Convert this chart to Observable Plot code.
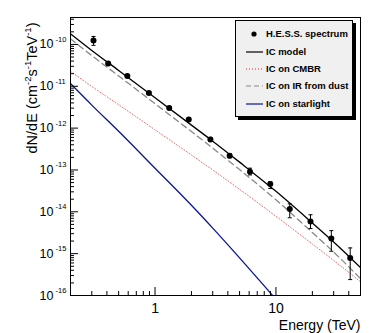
<!DOCTYPE html>
<html><head><meta charset="utf-8">
<script src="https://cdn.jsdelivr.net/npm/d3@7"></script>
<script src="https://cdn.jsdelivr.net/npm/@observablehq/plot@0.6"></script>
<style>
body{margin:0;background:#fff;}
#wrap{position:relative;width:374px;height:333px;font-family:"Liberation Sans",Arial,sans-serif;}
#legend{position:absolute;left:235px;top:20px;width:116px;height:95px;background:#f0f0f0;border:1px solid #000;box-shadow:3px 3px 0 #000;}
#legend svg{display:block;}
</style></head><body><div id="wrap"></div>
<script>
// H.E.S.S. spectrum
const energies = [0.31, 0.41, 0.59, 0.89, 1.31, 1.90, 2.87, 4.14, 6.1, 8.97, 13.0, 19.3, 28.7, 41.1];
const flux     = [1.24e-10, 3.5e-11, 1.76e-11, 6.9e-12, 3.04e-12, 1.61e-12, 5.37e-13, 2.19e-13, 9.1e-14, 4.6e-14, 1.17e-14, 5.9e-15, 2.31e-15, 7.9e-16];
const fluxLo   = [9.5e-11, 3.2e-11, 1.63e-11, 6.4e-12, 2.8e-12, 1.48e-12, 4.8e-13, 1.95e-13, 7.6e-14, 3.6e-14, 7.2e-15, 4.0e-15, 1.14e-15, 2.4e-16];
const fluxHi   = [1.55e-10, 3.8e-11, 1.9e-11, 7.4e-12, 3.3e-12, 1.75e-12, 6.0e-13, 2.45e-13, 1.1e-13, 5.2e-14, 1.55e-14, 8.5e-15, 3.55e-15, 1.37e-15];

// Model curves
const modelEnergies = [0.2, 0.3, 0.5, 1, 2, 3, 5, 10, 20, 30, 50];
const icModel = [1.80e-10, 7.2e-11, 2.39e-11, 5.32e-12, 1.18e-12, 4.88e-13, 1.54e-13, 3.08e-14, 5.38e-15, 1.89e-15, 4.64e-16];
const icDust  = [1.37e-10, 5.41e-11, 1.77e-11, 3.83e-12, 8.26e-13, 3.32e-13, 1.02e-13, 1.93e-14, 3.2e-15, 1.09e-15, 2.54e-16];
const icCMBR  = [2.28e-11, 9.88e-12, 3.63e-12, 9.12e-13, 2.28e-13, 1.0e-13, 3.45e-14, 7.82e-15, 1.70e-15, 6.89e-16, 2.14e-16];
const starEnergies = [0.2, 0.3, 0.5, 1, 2, 3, 5, 8, 10];
const icStarlight  = [1.16e-11, 3.55e-12, 8.4e-13, 1.10e-13, 1.43e-14, 4.07e-15, 7.94e-16, 1.70e-16, 8.07e-17];

// Axes
const xTickValues = [1, 10];
const xTickLabels = ["1", "10"];
const xMinorTicks = [0.3,0.4,0.5,0.6,0.7,0.8,0.9,2,3,4,5,6,7,8,9,20,30,40];
const yTickValues = [1e-10, 1e-11, 1e-12, 1e-13, 1e-14, 1e-15, 1e-16];
const yTickExponents = ["-10", "-11", "-12", "-13", "-14", "-15", "-16"];
const yTitleParts = [["dN/dE (cm", false], ["-2", true], ["s", false], ["-1", true], ["TeV", false], ["-1", true], [")", false]];
const xTitle = "Energy (TeV)";
const legendLabels = ["H.E.S.S. spectrum", "IC model", "IC on CMBR", "IC on IR from dust", "IC on starlight"];

const yMinorTicks = [];
for (const p of [-16,-15,-14,-13,-12,-11,-10]) for (let k = 2; k <= 9; k++) { const v = k * Math.pow(10, p); if (v < 4.4e-10) yMinorTicks.push(v); }

const points = energies.map((e, i) => ({e, f: flux[i], lo: fluxLo[i], hi: fluxHi[i]}));
const mk = (xs, ys) => xs.map((e, i) => ({e, f: ys[i]}));
const capSymbol = {draw(ctx) { ctx.moveTo(-2, 0); ctx.lineTo(2, 0); }};
const yTitleText = yTitleParts.map(p => p[0]).join("");

const font = `"Liberation Sans", Arial, sans-serif`;
const chart = Plot.plot({
  width: 374, height: 333,
  marginLeft: 70, marginRight: 14, marginTop: 17, marginBottom: 38,
  style: {fontFamily: font, background: "white", color: "black"},
  x: {type: "log", domain: [0.2, 50]},
  y: {type: "log", domain: [1e-16, 4.4e-10]},
  marks: [
    Plot.line(mk(starEnergies, icStarlight), {x: "e", y: "f", stroke: "#0a1496", strokeWidth: 1.3, clip: true, curve: "monotone-x"}),
    Plot.line(mk(modelEnergies, icCMBR), {x: "e", y: "f", stroke: "#e87070", strokeWidth: 1, strokeDasharray: "1,2", clip: true, curve: "monotone-x"}),
    Plot.line(mk(modelEnergies, icDust), {x: "e", y: "f", stroke: "#888", strokeWidth: 1.3, strokeDasharray: "6,4", clip: true, curve: "monotone-x"}),
    Plot.line(mk(modelEnergies, icModel), {x: "e", y: "f", stroke: "black", strokeWidth: 1.3, clip: true, curve: "monotone-x"}),
    Plot.ruleX(points, {x: "e", y1: "lo", y2: "hi", stroke: "black", strokeWidth: 1}),
    Plot.dot(points, {x: "e", y: "lo", symbol: capSymbol, stroke: "black", fill: "none", strokeWidth: 1}),
    Plot.dot(points, {x: "e", y: "hi", symbol: capSymbol, stroke: "black", fill: "none", strokeWidth: 1}),
    Plot.dot(points, {x: "e", y: "f", r: 3, fill: "black", stroke: "none"}),
    Plot.frame({stroke: "black", strokeWidth: 1}),
    Plot.axisX(xMinorTicks, {tickSize: -4, tickFormat: () => "", label: null, stroke: "black"}),
    Plot.axisX(xTickValues, {tickSize: -8, tickFormat: () => "", label: null, stroke: "black"}),
    Plot.axisY(yMinorTicks, {tickSize: -4, tickFormat: () => "", label: null, stroke: "black"}),
    Plot.axisY(yTickValues, {tickSize: -8, tickFormat: () => "", label: null, stroke: "black"}),
    Plot.text(xTickValues, {x: d => d, frameAnchor: "bottom", dy: 13, lineAnchor: "middle", text: (d, i) => xTickLabels[i], fontSize: 14, fill: "black"}),
    Plot.text(yTickValues, {y: d => d, frameAnchor: "left", dx: -17, textAnchor: "end", lineAnchor: "middle", text: () => "10", fontSize: 12.5, fill: "black"}),
    Plot.text(yTickValues, {y: d => d, frameAnchor: "left", dx: -15, dy: -5, textAnchor: "start", lineAnchor: "middle", text: (d, i) => yTickExponents[i], fontSize: 7.5, fill: "black"}),
    Plot.text([xTitle], {frameAnchor: "bottom-right", dy: 30, textAnchor: "end", lineAnchor: "middle", text: d => d, fontSize: 14, fill: "black"}),
    Plot.text([yTitleText], {frameAnchor: "top-left", dx: -38, dy: 5, rotate: -90, textAnchor: "end", lineAnchor: "middle", text: d => d, fontSize: 14.5, fill: "black"})
  ]
});
document.getElementById("wrap").appendChild(chart);

// superscripts in the y title
d3.select(chart).selectAll("text").each(function() {
  if (this.textContent !== yTitleText) return;
  const t = d3.select(this);
  t.text(null);
  let prevSup = false;
  for (const [s, sup] of yTitleParts) {
    const ts = t.append("tspan").text(s);
    if (sup) ts.attr("font-size", 9.5).attr("dy", -6);
    else if (prevSup) ts.attr("dy", 6);
    prevSup = sup;
  }
});

// legend
const lg = document.createElement("div");
lg.id = "legend";
const rowsY = [13, 31, 48, 65, 83];
const ls = d3.create("svg").attr("width", 116).attr("height", 95)
  .style("font-family", font).style("font-size", "9.5px").style("font-weight", "bold");
ls.append("circle").attr("cx", 18).attr("cy", rowsY[0]).attr("r", 2.6).attr("fill", "black");
const sw = [null,
  {stroke: "black", dash: null},
  {stroke: "#d83030", dash: "1,2"},
  {stroke: "#888", dash: "5,3"},
  {stroke: "#0a1496", dash: null}];
for (let i = 1; i < 5; i++) {
  const l = ls.append("line").attr("x1", 10).attr("x2", 27).attr("y1", rowsY[i]).attr("y2", rowsY[i])
    .attr("stroke", sw[i].stroke).attr("stroke-width", 1.2);
  if (sw[i].dash) l.attr("stroke-dasharray", sw[i].dash);
}
legendLabels.forEach((s, i) => {
  ls.append("text").attr("x", 30).attr("y", rowsY[i]).attr("dy", "0.35em").text(s);
});
lg.appendChild(ls.node());
document.getElementById("wrap").appendChild(lg);
</script>
</body></html>
